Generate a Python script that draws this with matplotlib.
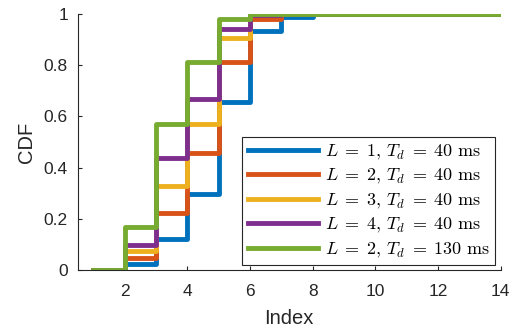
import matplotlib
matplotlib.use("Agg")
import matplotlib.pyplot as plt

# data (stairs, one value per index)
index = list(range(1, 15))
cdf_l1_40 = [0, 0.023, 0.121, 0.297, 0.656, 0.935, 0.990, 1, 1, 1, 1, 1, 1, 1]
cdf_l2_40 = [0, 0.047, 0.222, 0.458, 0.813, 0.982, 1, 1, 1, 1, 1, 1, 1, 1]
cdf_l3_40 = [0, 0.076, 0.327, 0.571, 0.906, 0.998, 1, 1, 1, 1, 1, 1, 1, 1]
cdf_l4_40 = [0, 0.098, 0.438, 0.669, 0.943, 0.998, 1, 1, 1, 1, 1, 1, 1, 1]
cdf_l2_130 = [0, 0.167, 0.569, 0.813, 0.982, 1, 1, 1, 1, 1, 1, 1, 1, 1]

series = [cdf_l1_40, cdf_l2_40, cdf_l3_40, cdf_l4_40, cdf_l2_130]
labels = [r"$L\;=\;1,\,T_d\;=\;40\ \mathrm{ms}$", r"$L\;=\;2,\,T_d\;=\;40\ \mathrm{ms}$",
          r"$L\;=\;3,\,T_d\;=\;40\ \mathrm{ms}$", r"$L\;=\;4,\,T_d\;=\;40\ \mathrm{ms}$",
          r"$L\;=\;2,\,T_d\;=\;130\ \mathrm{ms}$"]
colors = ["#0072BD", "#D95319", "#EDB120", "#7E2F8E", "#77AC30"]

plt.rcParams["font.family"] = ["Liberation Sans", "DejaVu Sans"]
plt.rcParams["mathtext.fontset"] = "cm"

fig = plt.figure(figsize=(5.16, 3.32), dpi=100)
ax = fig.add_axes([0.1506, 0.1867, 0.8194, 0.7711])

for y, c, lab in zip(series, colors, labels):
    ax.step(index, y, where="post", color=c, lw=3.5, label=lab)

ax.set_xlim(0.5, 14)
ax.set_ylim(0, 1)
ax.set_xticks(range(2, 15, 2))
ax.set_yticks([0, 0.2, 0.4, 0.6, 0.8, 1])
ax.set_yticklabels(["0", "0.2", "0.4", "0.6", "0.8", "1"])

gray = "#262626"
for side in ("top", "right"):
    ax.spines[side].set_visible(False)
for side in ("left", "bottom"):
    ax.spines[side].set_color(gray)
    ax.spines[side].set_linewidth(0.8)
ax.tick_params(direction="in", length=3, width=0.8, color=gray,
               labelcolor=gray, labelsize=12.5)
ax.tick_params(axis="x", pad=10)
ax.tick_params(axis="y", pad=7)

ax.set_xlabel("Index", fontsize=14.5, color=gray, labelpad=7)
ax.set_ylabel("CDF", fontsize=14.5, color=gray, labelpad=6)

leg = ax.legend(loc="lower right", bbox_to_anchor=(0.988, 0.0195),
                borderaxespad=0, fontsize=13, handlelength=3.9,
                handletextpad=0.4, labelspacing=0.3, borderpad=0.3,
                fancybox=False, framealpha=1, edgecolor=gray)
leg.get_frame().set_linewidth(0.8)

fig.savefig("out.png", dpi=100)
